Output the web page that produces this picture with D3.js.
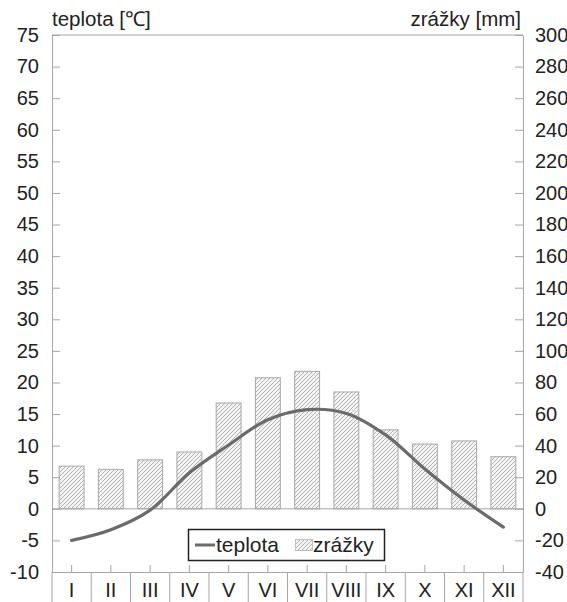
<!DOCTYPE html>
<html><head><meta charset="utf-8">
<script src="https://cdn.jsdelivr.net/npm/d3@7"></script>
<style>
html,body{margin:0;padding:0;background:#fff;overflow:hidden}
svg{display:block;font-family:"Liberation Sans",Arial,sans-serif}
</style></head>
<body>
<svg id="c" width="567" height="602"></svg>
<script>
const months = ["I","II","III","IV","V","VI","VII","VIII","IX","X","XI","XII"];
const teplota = [-5.0,-3.3,-0.2,5.7,10.1,14.1,15.7,15.1,11.7,6.3,1.4,-2.9];
const zrazky = [27,25,31,36,67,83,87,74,50,41,43,33];
const tempTicks = [-10,-5,0,5,10,15,20,25,30,35,40,45,50,55,60,65,70,75];
const precTicks = [-40,-20,0,20,40,60,80,100,120,140,160,180,200,220,240,260,280,300];

const svg = d3.select("#c");
const L = 52, R = 523, T = 35, B = 572;
const axisCol = "#a6a6a6";
const txtCol = "#222";

const defs = svg.append("defs");
const pat = defs.append("pattern").attr("id","hatch").attr("patternUnits","userSpaceOnUse")
  .attr("width",4).attr("height",4);
pat.append("rect").attr("width",4).attr("height",4).attr("fill","#f3f3f3");
pat.append("path").attr("d","M-1,1 l2,-2 M0,4 l4,-4 M3,5 l2,-2").attr("stroke","#b4b4b4").attr("stroke-width",1);

const x = d3.scaleBand().domain(months).range([L,R]).paddingInner(0.34).paddingOuter(0.17);
const yT = d3.scaleLinear().domain([-10,75]).range([B,T]);
const yP = d3.scaleLinear().domain([-40,300]).range([B,T]);
const step = x.step();
const cx = m => x(m) + x.bandwidth()/2;

// frame top
svg.append("line").attr("x1",L).attr("x2",R).attr("y1",T).attr("y2",T).attr("stroke",axisCol);

// bars
svg.append("g").selectAll("rect").data(months).join("rect")
  .attr("x",m=>x(m)+0.5).attr("width",x.bandwidth()-1)
  .attr("y",(m,i)=>yP(zrazky[i])).attr("height",(m,i)=>yP(0)-yP(zrazky[i]))
  .attr("fill","url(#hatch)").attr("stroke","#a8a8a8").attr("stroke-width",1);

// zero line
svg.append("line").attr("x1",L).attr("x2",R).attr("y1",yT(0)).attr("y2",yT(0)).attr("stroke",axisCol);

const fmt = d => String(d);
// left axis
const ga = svg.append("g").attr("transform",`translate(${L},0)`)
  .call(d3.axisLeft(yT).tickValues(tempTicks).tickFormat(fmt).tickSize(-8).tickSizeOuter(0).tickPadding(13));
// right axis
const gb = svg.append("g").attr("transform",`translate(${R},0)`)
  .call(d3.axisRight(yP).tickValues(precTicks).tickFormat(fmt).tickSize(-8).tickSizeOuter(0).tickPadding(12));
[ga,gb].forEach(g=>{
  g.select(".domain").attr("stroke",axisCol);
  g.selectAll(".tick line").attr("stroke",axisCol);
  g.selectAll(".tick text").attr("fill",txtCol).attr("font-size",20).attr("font-family","Liberation Sans, Arial, sans-serif");
});

// bottom axis
const gx = svg.append("g").attr("transform",`translate(0,${B})`)
  .call(d3.axisBottom(x).tickSize(-7).tickSizeOuter(0).tickFormat(""));
gx.select(".domain").attr("stroke",axisCol);
gx.selectAll(".tick line").attr("stroke",axisCol);
// separators
svg.append("g").selectAll("line").data(d3.range(months.length+1)).join("line")
  .attr("x1",i=>L+i*step).attr("x2",i=>L+i*step).attr("y1",B).attr("y2",602)
  .attr("stroke",axisCol);
svg.append("g").selectAll("text").data(months).join("text")
  .attr("x",cx).attr("y",597).attr("text-anchor","middle")
  .attr("font-size",20).attr("fill",txtCol).text(d=>d);

// temperature line
const line = d3.line().x((d,i)=>cx(months[i])).y(d=>yT(d)).curve(d3.curveCatmullRom.alpha(0.5));
svg.append("path").datum(teplota).attr("d",line).attr("fill","none")
  .attr("stroke","#6b6b6b").attr("stroke-width",3.2).attr("stroke-linecap","round");

// titles
svg.append("text").attr("x",L).attr("y",26).attr("font-size",20.5).attr("fill",txtCol).text("teplota [℃]");
svg.append("text").attr("x",R-2).attr("y",26).attr("font-size",20.5).attr("fill",txtCol).attr("text-anchor","end").text("zrážky [mm]");

// legend
const lg = svg.append("g");
lg.append("rect").attr("x",188.5).attr("y",529.5).attr("width",196).attr("height",31)
  .attr("fill","#fff").attr("stroke","#222").attr("stroke-width",1.5);
lg.append("line").attr("x1",195).attr("x2",215).attr("y1",545).attr("y2",545)
  .attr("stroke","#6b6b6b").attr("stroke-width",3);
lg.append("text").attr("x",216).attr("y",552).attr("font-size",21).attr("fill",txtCol).text("teplota");
lg.append("rect").attr("x",295.5).attr("y",539.5).attr("width",17).attr("height",11)
  .attr("fill","url(#hatch)").attr("stroke","#c0c0c0");
lg.append("text").attr("x",313).attr("y",552).attr("font-size",21).attr("fill",txtCol).text("zrážky");
</script>
</body></html>
